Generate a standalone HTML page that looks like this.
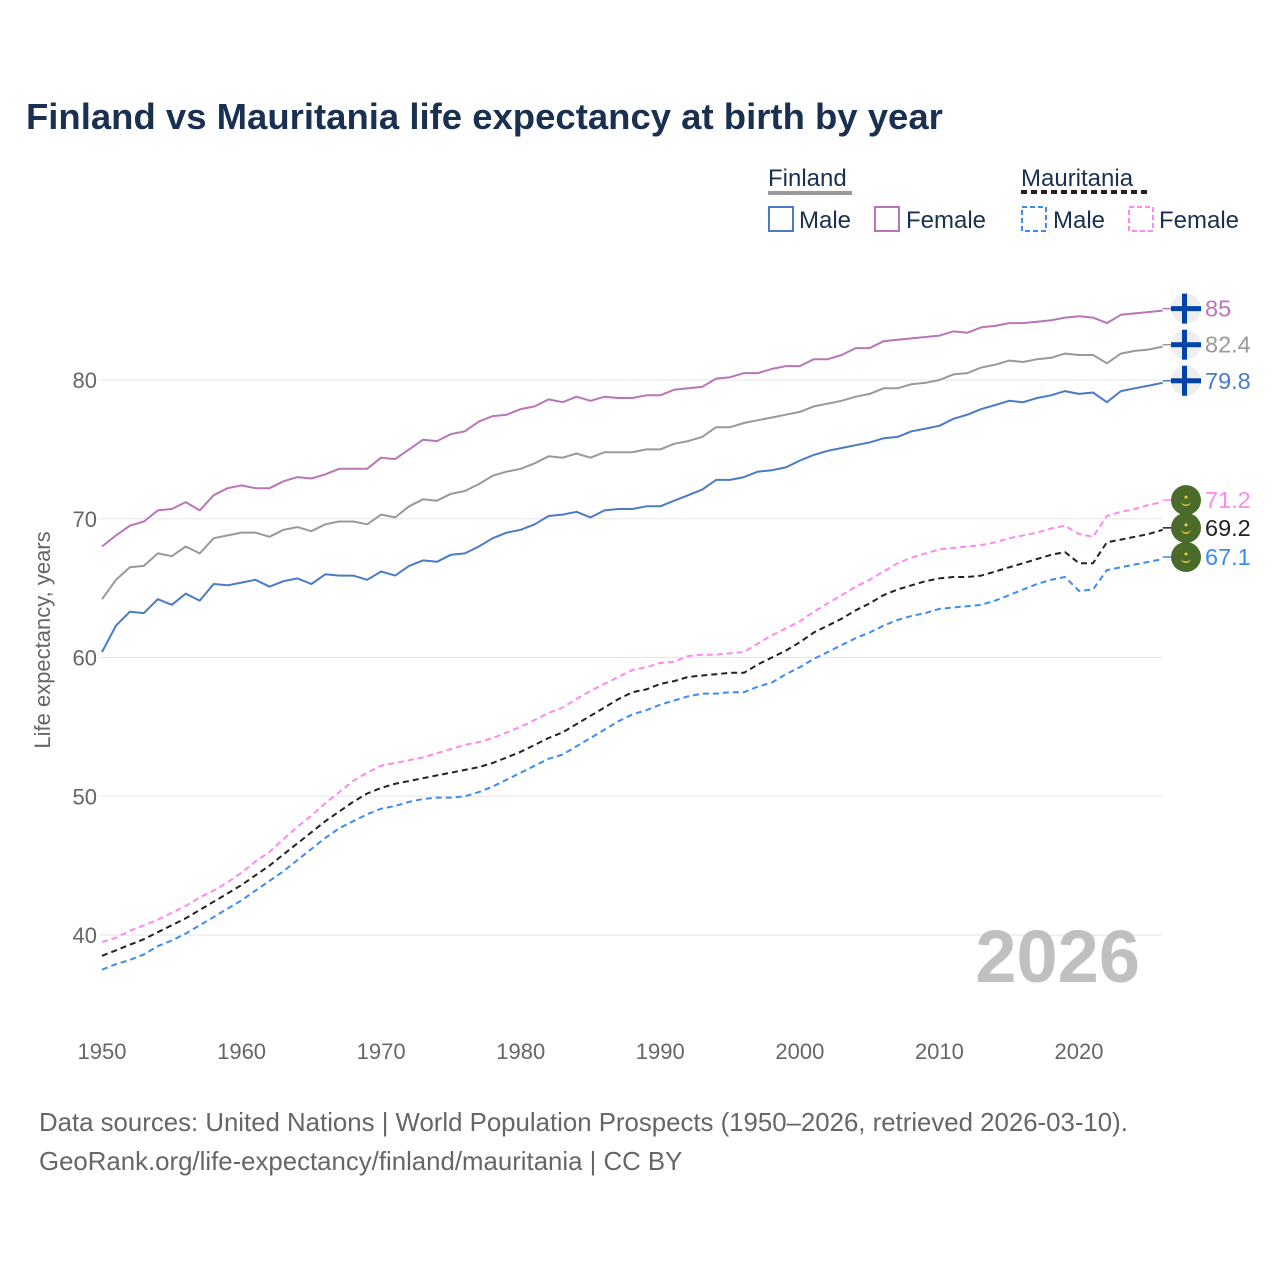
<!DOCTYPE html>
<html><head><meta charset="utf-8">
<style>
body{margin:0;background:#fff;}
svg{display:block;font-family:"Liberation Sans",sans-serif;}
</style></head>
<body>
<svg id="chart" width="1280" height="1280" viewBox="0 0 1280 1280">
<text x="26" y="129" font-size="36.5" font-weight="bold" fill="#1a3050">Finland vs Mauritania life expectancy at birth by year</text>
<g>
<text x="768" y="186" font-size="24" fill="#1a3050">Finland</text>
<line x1="768" x2="852" y1="193" y2="193" stroke="#9a9a9a" stroke-width="4"/>
<rect x="769" y="207" width="24" height="24" fill="none" stroke="#4a7bc8" stroke-width="2"/>
<text x="799" y="228" font-size="24" fill="#1a3050">Male</text>
<rect x="875" y="207" width="24" height="24" fill="none" stroke="#b876b8" stroke-width="2"/>
<text x="906" y="228" font-size="24" fill="#1a3050">Female</text>
<text x="1021" y="186" font-size="24" fill="#1a3050">Mauritania</text>
<line x1="1021" x2="1147" y1="192" y2="192" stroke="#222" stroke-width="4" stroke-dasharray="6,4"/>
<rect x="1022" y="207" width="24" height="24" fill="none" stroke="#3d8af7" stroke-width="2" stroke-dasharray="5,3"/>
<text x="1053" y="228" font-size="24" fill="#1a3050">Male</text>
<rect x="1129" y="207" width="24" height="24" fill="none" stroke="#ff88ee" stroke-width="2" stroke-dasharray="5,3"/>
<text x="1159" y="228" font-size="24" fill="#1a3050">Female</text>
</g>
<text transform="translate(50,640) rotate(-90)" text-anchor="middle" font-size="22" fill="#666">Life expectancy, years</text>
<g id="grid"></g>
<text x="1140" y="982" text-anchor="end" font-size="74" font-weight="bold" fill="#c0c0c0">2026</text>
<g id="lines"></g>
<g id="ends"></g>
<text x="39" y="1131" font-size="25.8" fill="#666">Data sources: United Nations | World Population Prospects (1950–2026, retrieved 2026-03-10).</text>
<text x="39" y="1170" font-size="25.8" fill="#666">GeoRank.org/life-expectancy/finland/mauritania | CC BY</text>
</svg>
<script>
const years = [];
for (let y = 1950; y <= 2026; y++) years.push(y);
const yTicks = [40, 50, 60, 70, 80];
const xTicks = [1950, 1960, 1970, 1980, 1990, 2000, 2010, 2020];
const finFemale = [68.0,68.8,69.5,69.8,70.6,70.7,71.2,70.6,71.7,72.2,72.4,72.2,72.2,72.7,73.0,72.9,73.2,73.6,73.6,73.6,74.4,74.3,75.0,75.7,75.6,76.1,76.3,77.0,77.4,77.5,77.9,78.1,78.6,78.4,78.8,78.5,78.8,78.7,78.7,78.9,78.9,79.3,79.4,79.5,80.1,80.2,80.5,80.5,80.8,81.0,81.0,81.5,81.5,81.8,82.3,82.3,82.8,82.9,83.0,83.1,83.2,83.5,83.4,83.8,83.9,84.1,84.1,84.2,84.3,84.5,84.6,84.5,84.1,84.7,84.8,84.9,85.0];
const finTotal = [64.2,65.6,66.5,66.6,67.5,67.3,68.0,67.5,68.6,68.8,69.0,69.0,68.7,69.2,69.4,69.1,69.6,69.8,69.8,69.6,70.3,70.1,70.9,71.4,71.3,71.8,72.0,72.5,73.1,73.4,73.6,74.0,74.5,74.4,74.7,74.4,74.8,74.8,74.8,75.0,75.0,75.4,75.6,75.9,76.6,76.6,76.9,77.1,77.3,77.5,77.7,78.1,78.3,78.5,78.8,79.0,79.4,79.4,79.7,79.8,80.0,80.4,80.5,80.9,81.1,81.4,81.3,81.5,81.6,81.9,81.8,81.8,81.2,81.9,82.1,82.2,82.4];
const finMale = [60.4,62.3,63.3,63.2,64.2,63.8,64.6,64.1,65.3,65.2,65.4,65.6,65.1,65.5,65.7,65.3,66.0,65.9,65.9,65.6,66.2,65.9,66.6,67.0,66.9,67.4,67.5,68.0,68.6,69.0,69.2,69.6,70.2,70.3,70.5,70.1,70.6,70.7,70.7,70.9,70.9,71.3,71.7,72.1,72.8,72.8,73.0,73.4,73.5,73.7,74.2,74.6,74.9,75.1,75.3,75.5,75.8,75.9,76.3,76.5,76.7,77.2,77.5,77.9,78.2,78.5,78.4,78.7,78.9,79.2,79.0,79.1,78.4,79.2,79.4,79.6,79.8];
const mrtFemale = [39.5,39.8,40.3,40.7,41.1,41.6,42.1,42.7,43.2,43.8,44.5,45.3,46.0,46.9,47.8,48.6,49.5,50.3,51.1,51.7,52.2,52.4,52.6,52.8,53.1,53.4,53.7,53.9,54.2,54.6,55.0,55.5,56.0,56.4,57.0,57.6,58.1,58.6,59.1,59.3,59.6,59.7,60.1,60.2,60.2,60.3,60.4,61.0,61.6,62.1,62.6,63.3,63.9,64.5,65.1,65.6,66.2,66.8,67.2,67.5,67.8,67.9,68.0,68.1,68.3,68.6,68.8,69.0,69.3,69.5,68.9,68.7,70.2,70.5,70.7,71.0,71.2];
const mrtTotal = [38.5,38.9,39.3,39.7,40.2,40.7,41.2,41.8,42.4,43.0,43.6,44.3,45.0,45.8,46.6,47.4,48.2,48.9,49.6,50.2,50.6,50.9,51.1,51.3,51.5,51.7,51.9,52.1,52.4,52.8,53.2,53.7,54.2,54.6,55.2,55.8,56.4,57.0,57.5,57.7,58.1,58.3,58.6,58.7,58.8,58.9,58.9,59.5,60.0,60.5,61.1,61.8,62.3,62.8,63.4,63.9,64.5,64.9,65.2,65.5,65.7,65.8,65.8,65.9,66.2,66.5,66.8,67.1,67.4,67.6,66.8,66.8,68.3,68.5,68.7,68.9,69.2];
const mrtMale = [37.5,37.9,38.2,38.6,39.2,39.6,40.1,40.7,41.3,41.9,42.5,43.2,43.9,44.6,45.4,46.2,47.0,47.7,48.2,48.7,49.1,49.3,49.6,49.8,49.9,49.9,50.0,50.3,50.7,51.2,51.7,52.2,52.7,53.0,53.6,54.2,54.8,55.4,55.9,56.2,56.6,56.9,57.2,57.4,57.4,57.5,57.5,57.9,58.2,58.8,59.3,59.9,60.4,60.9,61.4,61.8,62.3,62.7,63.0,63.2,63.5,63.6,63.7,63.8,64.1,64.5,64.9,65.3,65.6,65.8,64.8,64.9,66.3,66.5,66.7,66.9,67.1];

const NS = "http://www.w3.org/2000/svg";
const x = yr => 102 + (yr - 1950) * (977 / 70);
const y = v => 380 + (80 - v) * 13.875;
function mk(tag, attrs, parent) {
  const el = document.createElementNS(NS, tag);
  for (const k in attrs) el.setAttribute(k, attrs[k]);
  parent.appendChild(el);
  return el;
}
const grid = document.getElementById('grid');
yTicks.forEach(t => {
  const l = mk('line', {x1: 100, x2: 1162, y1: y(t), y2: y(t), stroke: '#e6e6e6', 'stroke-width': 1}, grid);
  
  
  const tx = mk('text', {x: 97, y: y(t) + 8, 'text-anchor': 'end', 'font-size': 22, fill: '#666'}, grid);
  tx.textContent = t;
  
  
});
xTicks.forEach(t => {
  const tx = mk('text', {x: x(t), y: 1059, 'text-anchor': 'middle', 'font-size': 22, fill: '#666'}, grid);
  tx.textContent = t;
  
  
});
const series = [
  {name: 'finland-female', d: finFemale, c: '#b876b8', dash: null, flag: 'fi', lab: '85'},
  {name: 'finland-total', d: finTotal, c: '#999999', dash: null, flag: 'fi', lab: '82.4'},
  {name: 'finland-male', d: finMale, c: '#4a7bc8', dash: null, flag: 'fi', lab: '79.8'},
  {name: 'mauritania-female', d: mrtFemale, c: '#ff88ee', dash: '6,4', flag: 'mr', lab: '71.2'},
  {name: 'mauritania-total', d: mrtTotal, c: '#222222', dash: '6,4', flag: 'mr', lab: '69.2'},
  {name: 'mauritania-male', d: mrtMale, c: '#3d8af7', dash: '6,4', flag: 'mr', lab: '67.1'}
];
const lines = document.getElementById('lines');
const ends = document.getElementById('ends');
series.forEach(s => {
  const pts = s.d.map((v, i) => x(years[i]).toFixed(1) + ',' + y(v).toFixed(1)).join(' ');
  const attrs = {points: pts, fill: 'none', stroke: s.c, 'stroke-width': 2, 'stroke-linejoin': 'round'};
  if (s.dash) attrs['stroke-dasharray'] = s.dash;
  const pl = mk('polyline', attrs, lines);
  
  
  const last = s.d[s.d.length - 1];
  const cy = y(last) - 2;
  const cx = 1186;
  const g = mk('g', {}, ends);
  
  
  mk('line', {x1: x(2026), x2: cx - 15, y1: cy, y2: cy, stroke: s.c, 'stroke-width': 1.5}, g);
  if (s.flag === 'fi') {
    mk('circle', {cx: cx, cy: cy, r: 15, fill: '#eeeeee'}, g);
    mk('rect', {x: cx - 15, y: cy - 2.5, width: 30, height: 5, fill: '#0044aa'}, g);
    mk('rect', {x: cx - 4, y: cy - 15, width: 5, height: 30, fill: '#0044aa'}, g);
  } else {
    mk('circle', {cx: cx, cy: cy, r: 15, fill: '#4a6b2a'}, g);
    mk('path', {d: `M${cx-5},${cy+1} A5,5 0 0 0 ${cx+5},${cy+1} A5,3.5 0 0 1 ${cx-5},${cy+1}Z`, fill: '#f2d23a'}, g);
    mk('circle', {cx: cx, cy: cy - 3, r: 1.5, fill: '#f2d23a'}, g);
  }
  const t = mk('text', {x: 1205, y: cy + 8, 'font-size': 23.5, fill: s.c}, g);
  t.textContent = s.lab;
  
  
});
</script>
</body></html>
